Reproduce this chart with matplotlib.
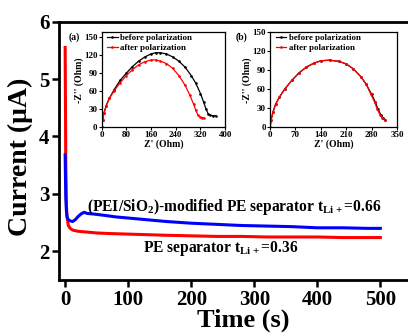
import matplotlib
matplotlib.use('Agg')
import matplotlib.pyplot as plt

plt.rcParams['font.family'] = ['Liberation Serif', 'DejaVu Serif']
plt.rcParams['font.weight'] = 'bold'
plt.rcParams['axes.labelweight'] = 'bold'
plt.rcParams['mathtext.fontset'] = 'custom'
plt.rcParams['mathtext.rm'] = 'Liberation Serif:bold'
plt.rcParams['mathtext.bf'] = 'Liberation Serif:bold'
plt.rcParams['mathtext.default'] = 'rm'

# chronoamperometry (main plot)
t_pe = [0, 0.5, 1, 2, 3, 5, 8, 12, 20, 30, 40, 50, 70, 100, 130, 160,
        200, 240, 280, 320, 360, 400, 440, 480, 500]
i_pe = [5.55, 4.6, 3.5, 2.8, 2.6, 2.45, 2.40, 2.37, 2.35, 2.34, 2.33, 2.32,
        2.31, 2.30, 2.29, 2.28, 2.27, 2.26, 2.26, 2.25, 2.25, 2.25, 2.24,
        2.24, 2.24]
t_mod = [0, 0.5, 1, 2, 3, 5, 8, 12, 16, 20, 25, 30, 35, 45, 60, 80, 100,
         130, 160, 200, 240, 280, 320, 360, 400, 440, 480, 500]
i_mod = [3.68, 3.3, 2.95, 2.7, 2.6, 2.55, 2.53, 2.52, 2.55, 2.6, 2.65,
         2.68, 2.66, 2.65, 2.63, 2.6, 2.58, 2.55, 2.52, 2.49, 2.47, 2.45,
         2.44, 2.43, 2.41, 2.41, 2.40, 2.40]
x_ticks = [0, 100, 200, 300, 400, 500]
y_ticks = [2, 3, 4, 5, 6]

# inset (a): PE separator impedance
za_before = [0, 3, 8, 15, 25, 40, 60, 80, 100, 120, 140, 160, 175, 190, 210,
             230, 250, 270, 290, 305, 320, 330, 338, 345, 352, 360, 370]
ya_before = [0, 12, 24, 36, 48, 62, 78, 90, 101, 110, 117, 122, 124, 124, 122,
             117, 110, 100, 86, 73, 56, 42, 30, 22, 20, 19, 19]
za_after = [0, 3, 8, 15, 25, 40, 60, 80, 100, 120, 140, 160, 175, 190, 210,
            230, 250, 270, 285, 298, 305, 312, 318, 325, 330]
ya_after = [0, 12, 24, 36, 48, 60, 74, 86, 96, 104, 109, 112, 112, 110, 106,
            98, 86, 70, 54, 38, 28, 20, 17, 16, 16]

# inset (b): modified separator impedance
zb_before = [0, 3, 8, 15, 25, 40, 60, 80, 100, 120, 140, 165, 190, 210, 230,
             250, 265, 280, 290, 298, 305, 312, 318]
yb_before = [0, 12, 24, 36, 47, 60, 74, 86, 95, 101, 105, 106, 104, 100, 92,
             80, 68, 52, 40, 28, 20, 14, 12]
zb_after = [0, 3, 8, 15, 25, 40, 60, 80, 100, 120, 140, 165, 190, 210, 230,
            250, 265, 278, 288, 296, 303, 310, 316]
yb_after = [0, 12, 24, 36, 47, 60, 74, 86, 95, 101, 105, 106, 104, 100, 92,
            80, 68, 52, 40, 28, 20, 14, 12]
inset_y_ticks = [0, 30, 60, 90, 120, 150]

fig = plt.figure(figsize=(4.08, 3.33), dpi=100)
ax = fig.add_axes([0.145, 0.159, 0.9, 0.776])
ax.plot(t_pe, i_pe, color='#ff0000', lw=2.2)
ax.plot(t_mod, i_mod, color='#0000ff', lw=2.2)
ax.set_xlim(-9.5, 573)
ax.set_ylim(1.5, 6)
ax.set_xticks(x_ticks, [str(v) for v in x_ticks], fontweight='bold', fontsize=15)
ax.set_yticks(y_ticks, [str(v) for v in y_ticks], fontweight='bold', fontsize=15)
for s in ax.spines.values():
    s.set_linewidth(2)
ax.tick_params(direction='out', width=1.8, length=5, pad=2)
ax.set_xlabel('Time (s)', fontsize=19, fontweight='bold', labelpad=-1)
ax.set_ylabel('Current (\u03bcA)', fontsize=20, fontweight='bold')
ax.yaxis.set_label_coords(-0.07, 0.475)
ax.text(35, 2.6, r'(PEI/SiO$_2$)-modified PE separator t$_{\mathregular{Li+}}$=0.66',
        fontsize=11.2, fontweight='bold', ha='left', va='bottom')
ax.text(123, 2.05, r'PE separator t$_{\mathregular{Li+}}$=0.36',
        fontsize=11.2, fontweight='bold', ha='left', va='center')


def inset(rect, zb, yb, za, ya, xmax, ymax, xt, tag):
    a = fig.add_axes(rect)
    a.plot(zb, yb, color='black', lw=0.9, marker='s', ms=0.8)
    a.plot(za, ya, color='#ff0000', lw=0.9, marker='s', ms=0.8)
    a.set_xlim(0, xmax)
    a.set_ylim(0, ymax)
    a.set_xticks(xt, [str(v) for v in xt], fontweight='bold', fontsize=6.5)
    a.set_yticks(inset_y_ticks, [str(v) for v in inset_y_ticks],
                 fontweight='bold', fontsize=6.5)
    a.tick_params(direction='out', length=2, width=0.8, pad=1)
    for s in a.spines.values():
        s.set_linewidth(0.9)
    a.set_xlabel("Z' (Ohm)", fontsize=7, fontweight='bold', labelpad=0)
    a.set_ylabel("-Z'' (Ohm)", fontsize=7, fontweight='bold', labelpad=0)
    a.legend(['before polarization', 'after polarization'], loc='upper left',
             bbox_to_anchor=(-0.02, 1.07), frameon=False,
             prop={'size': 6.4, 'weight': 'bold'},
             handlelength=1.2, handletextpad=0.3, labelspacing=0.25)
    a.text(-0.27, 0.95, tag, transform=a.transAxes, fontsize=7,
           fontweight='bold', va='center')
    return a


inset([0.249, 0.618, 0.303, 0.285], za_before, ya_before, za_after, ya_after,
      400, 158, [0, 80, 160, 240, 320, 400], '(a)')
inset([0.662, 0.618, 0.311, 0.285], zb_before, yb_before, zb_after, yb_after,
      350, 150, [0, 70, 140, 210, 280, 350], '(b)')

fig.savefig('out.png', dpi=100)
